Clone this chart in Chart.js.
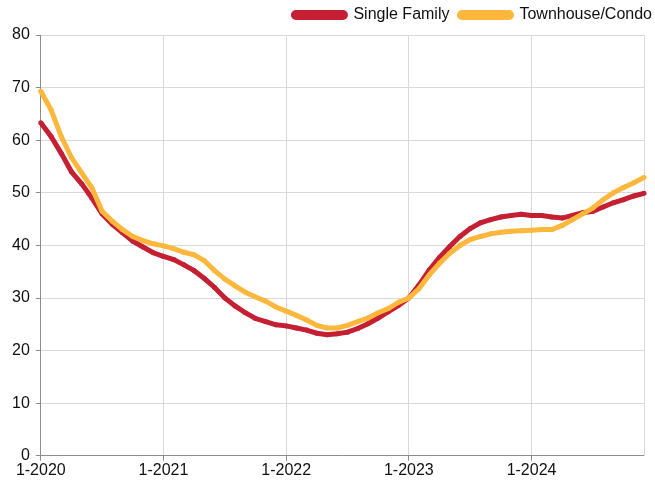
<!DOCTYPE html>
<html>
<head>
<meta charset="utf-8">
<script src="https://cdn.jsdelivr.net/npm/chart.js@4"></script>
<style>
  html, body { margin: 0; padding: 0; background: #fff; }
  #wrap { width: 655px; height: 485px; }
</style>
</head>
<body>
<div id="wrap"><canvas id="chart"></canvas></div>
<script>
// data
const years = ['2020', '2021', '2022', '2023', '2024'];
const months = [];
years.forEach(function (y) {
    for (let m = 1; m <= 12; m++) months.push(m + '-' + y);
});

const singleFamily = [
    63.3, 60.7, 57.5, 54.0, 51.7, 49.0, 46.0, 44.0, 42.4, 40.8, 39.7, 38.6,
    37.9, 37.3, 36.3, 35.2, 33.7, 32.0, 30.0, 28.5, 27.2, 26.1, 25.5, 24.9,
    24.7, 24.3, 23.9, 23.3, 23.0, 23.2, 23.5, 24.2, 25.1, 26.2, 27.4, 28.6,
    30.0, 32.5, 35.3, 37.7, 39.8, 41.7, 43.2, 44.3, 44.9, 45.4, 45.7, 45.9,
    45.7, 45.7, 45.4, 45.2, 45.7, 46.2, 46.5, 47.3, 48.1, 48.7, 49.4, 49.9
];
const townhouseCondo = [
    69.3, 65.8, 60.7, 56.7, 53.8, 50.9, 46.5, 44.6, 43.0, 41.7, 40.9, 40.3,
    39.9, 39.4, 38.7, 38.2, 37.1, 35.2, 33.6, 32.3, 31.1, 30.2, 29.4, 28.3,
    27.5, 26.7, 25.8, 24.8, 24.3, 24.3, 24.8, 25.5, 26.2, 27.2, 28.0, 29.2,
    30.0, 31.8, 34.4, 36.6, 38.5, 40.0, 41.1, 41.7, 42.2, 42.5, 42.7, 42.8,
    42.9, 43.0, 43.0, 43.8, 44.9, 46.0, 47.1, 48.7, 50.0, 51.0, 51.9, 52.9
];

const RED = '#c41f33';
const YELLOW = '#fdb73c';
const GRID = '#d9d9d9';
const AXIS = '#8c8c8c';
const FONT = "'Liberation Sans', Arial, Helvetica, sans-serif";

// fix legend height so plot top sits on the 80 line
const legendHeight = {
    id: 'legendHeight',
    beforeInit: function (chart) {
        const fit = chart.legend.fit;
        chart.legend.fit = function () {
            fit.call(this);
            this.height = 38;
        };
    }
};

function lineSet(label, data, colour, order) {
    return {
        label: label,
        data: data,
        borderColor: colour,
        backgroundColor: colour,
        borderWidth: 5,
        pointRadius: 2.5,
        pointBorderWidth: 0,
        pointBackgroundColor: colour,
        tension: 0,
        order: order
    };
}

new Chart(document.getElementById('chart').getContext('2d'), {
    type: 'line',
    data: {
        labels: months,
        datasets: [
            lineSet('Single Family', singleFamily, RED, 1),
            lineSet('Townhouse/Condo', townhouseCondo, YELLOW, 0)
        ]
    },
    plugins: [legendHeight],
    options: {
        responsive: true,
        maintainAspectRatio: false,
        animation: false,
        layout: { padding: { top: -3, left: 6, right: -7, bottom: 5 } },
        plugins: {
            tooltip: { enabled: false },
            legend: {
                position: 'top',
                align: 'end',
                labels: {
                    font: { family: FONT, size: 16 },
                    color: '#111',
                    boxWidth: 52,
                    boxHeight: 5,
                    padding: 10,
                    useBorderRadius: true,
                    borderRadius: 2.5,
                    sort: function (a, b) { return a.datasetIndex - b.datasetIndex; }
                }
            }
        },
        scales: {
            x: {
                type: 'category',
                offset: false,
                grid: {
                    color: function (ctx) {
                        return ctx.index % 12 === 0 ? GRID : 'transparent';
                    },
                    tickColor: function (ctx) {
                        return ctx.index % 12 === 0 ? AXIS : 'transparent';
                    },
                    tickLength: 5
                },
                border: { color: AXIS, width: 1 },
                ticks: {
                    autoSkip: false,
                    maxRotation: 0,
                    padding: 0,
                    color: '#111',
                    font: { family: FONT, size: 16 },
                    callback: function (val, idx) {
                        return idx % 12 === 0 ? months[idx] : '';
                    }
                }
            },
            y: {
                min: 0,
                max: 80,
                ticks: {
                    stepSize: 10,
                    padding: 6,
                    color: '#111',
                    font: { family: FONT, size: 16 }
                },
                grid: { color: GRID, tickColor: AXIS, tickLength: 5 },
                border: { color: AXIS, width: 1 }
            },
            y2: {
                position: 'right',
                min: 0,
                max: 80,
                grid: { display: false, drawOnChartArea: false },
                ticks: { display: false },
                border: { display: true, color: GRID, width: 1 },
                afterFit: function (scale) { scale.width = 18; }
            }
        }
    }
});
</script>
</body>
</html>
